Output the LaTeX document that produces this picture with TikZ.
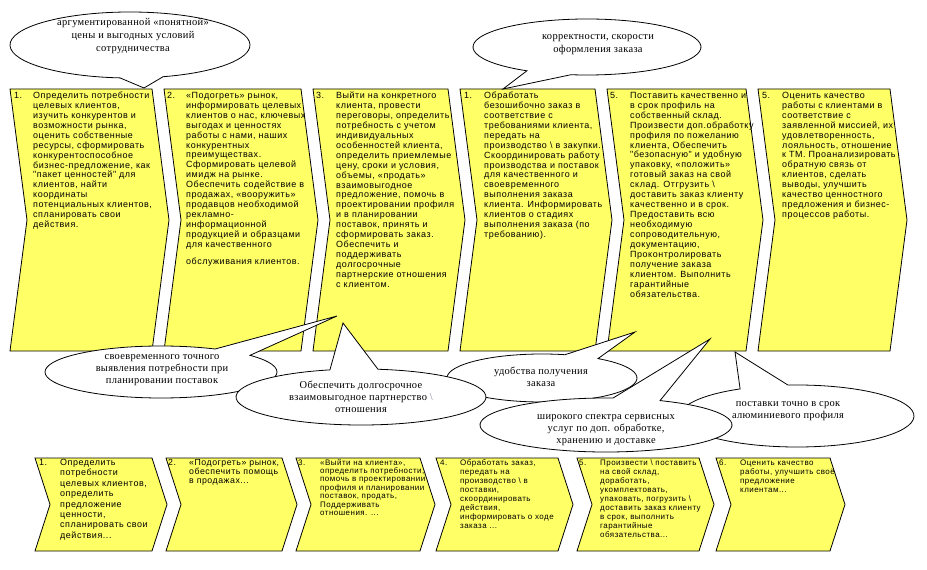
\documentclass[tikz,border=0pt]{standalone}
\usepackage{fontspec}
\setmainfont{Liberation Serif}
\newfontfamily\chevsans[LetterSpace=6]{Liberation Sans}
\newfontfamily\callserif[LetterSpace=3]{Liberation Serif}
\usetikzlibrary{calc}
\definecolor{chevyellow}{HTML}{FFFF66}
\definecolor{slashgray}{HTML}{8080A0}
\newcommand\chevshape[5]{\path[chev] (#1,#2) -- ++(#3,0) -- ++(#5,#4/2) -- ++(-#5,#4/2) -- ++(-#3,0) -- ++(#5,-#4/2) -- cycle;}
\newcommand\callshape[8]{\path[callout] ($(#1,#2)+(#5:#3 and #4)$) arc[start angle=#5, end angle=#6, x radius=#3, y radius=#4] -- (#7,#8) -- cycle;}
\newcommand\fl{\rule{0pt}{6.5bp}}
\begin{document}
\begin{tikzpicture}[x=1bp,y=-1bp,
 chev/.style={fill=chevyellow, draw=black, line width=0.8bp, line join=miter},
 callout/.style={fill=white, draw=black, line width=0.8bp, line join=miter},
 toptxt/.style={anchor=north west, inner sep=0pt, align=left, font=\chevsans\fontsize{9}{10}\selectfont},
 botA/.style={toptxt, font=\chevsans\fontsize{9}{10.5}\selectfont},
 botB/.style={toptxt, font=\chevsans\fontsize{8.8}{9.3}\selectfont},
 botC/.style={toptxt, font=\chevsans\fontsize{8}{8.4}\selectfont},
 botD/.style={toptxt, font=\chevsans\fontsize{8}{9.1}\selectfont},
 calltxt/.style={inner sep=0pt, align=center, font=\callserif\fontsize{10.5}{12}\selectfont},
 calltxtA/.style={calltxt, font=\callserif\fontsize{10.5}{13}\selectfont}]
\fill[white] (0,0) rectangle (927,570);
\useasboundingbox (0,0) rectangle (927,570);

% ---- top chevrons
\chevshape{10}{89}{142}{262}{17}
\chevshape{164}{89}{137}{262}{17}
\chevshape{313}{89}{135}{262}{17}
\chevshape{460}{89}{135}{262}{17}
\chevshape{607}{89}{139}{262}{17}
\chevshape{758}{89}{132}{262}{17}

\node[toptxt] (n1) at (14,91.5) {\fl 1.};
\node[toptxt] (t1) at (33,91.5) {\fl Определить потребности\\целевых клиентов,\\изучить конкурентов и\\возможности рынка,\\оценить собственные\\ресурсы, сформировать\\конкурентоспособное\\бизнес-предложение, как\\"пакет ценностей" для\\клиентов, найти\\координаты\\потенциальных клиентов,\\спланировать свои\\действия.};

\node[toptxt] (n2) at (167,91.5) {\fl 2.};
\node[toptxt] (t2) at (186,91.5) {\fl «Подогреть» рынок,\\информировать целевых\\клиентов о нас, ключевых\\выгодах и ценностях\\работы с нами,  наших\\конкурентных\\преимуществах.\\Сформировать целевой\\имидж на рынке.\\Обеспечить содействие в\\продажах, «вооружить»\\продавцов необходимой\\рекламно-\\информационной\\продукцией и образцами\\для качественного\\[6.5bp]обслуживания клиентов.};

\node[toptxt] (n3) at (316,91.5) {\fl 3.};
\node[toptxt] (t3) at (336,91.5) {\fl Выйти на  конкретного\\клиента, провести\\переговоры, определить\\потребность с учетом\\индивидуальных\\особенностей клиента,\\определить приемлемые\\цену, сроки и условия,\\объемы, «продать»\\взаимовыгодное\\предложение, помочь в\\проектировании профиля\\и в планировании\\поставок, принять и\\сформировать заказ.\\Обеспечить и\\поддерживать\\долгосрочные\\партнерские отношения\\с клиентом.};

\node[toptxt] (n4) at (464,91.5) {\fl 1.};
\node[toptxt] (t4) at (484,91.5) {\fl Обработать\\безошибочно заказ в\\соответствие с\\требованиями клиента,\\передать на\\производство \textbackslash\ в закупки.\\Скоординировать работу\\производства и поставок\\для качественного и\\своевременного\\выполнения заказа\\клиента. Информировать\\клиентов о стадиях\\выполнения заказа (по\\требованию).};

\node[toptxt] (n5) at (610,91.5) {\fl 5.};
\node[toptxt] (t5) at (630,91.5) {\fl Поставить качественно и\\в срок  профиль на\\собственный склад.\\Произвести доп.обработку\\профиля по пожеланию\\клиента, Обеспечить\\"безопасную"  и удобную\\упаковку, «положить»\\готовый заказ на свой\\склад. Отгрузить \textbackslash\\доставить заказ  клиенту\\качественно и в срок.\\Предоставить всю\\необходимую\\сопроводительную,\\документацию,\\Проконтролировать\\получение заказа\\клиентом. Выполнить\\гарантийные\\обязательства.};

\node[toptxt] (n6) at (762,91.5) {\fl 5.};
\node[toptxt] (t6) at (782,91.5) {\fl Оценить качество\\работы с клиентами  в\\соответствие с\\заявленной миссией, их\\удовлетворенность,\\лояльность, отношение\\к ТМ. Проанализировать\\обратную связь от\\клиентов, сделать\\выводы, улучшить\\качество ценностного\\предложения и бизнес-\\процессов работы.};

% ---- bottom chevrons
\chevshape{35}{458}{117}{93}{15}
\chevshape{166}{458}{116}{93}{15}
\chevshape{296}{458}{124}{93}{15}
\chevshape{436}{458}{122}{93}{15}
\chevshape{577}{458}{122}{93}{15}
\chevshape{716}{458}{114}{93}{15}

\node[botA] (m1) at (39,458.5) {\fl 1.};
\node[botA] (b1) at (60,458.5) {\fl Определить\\потребности\\целевых клиентов,\\определить\\предложение\\ценности,\\спланировать свои\\действия...};
\node[botB] (m2) at (168,458.5) {\fl 2.};
\node[botB] (b2) at (189,458.5) {\fl «Подогреть» рынок,\\обеспечить помощь\\в продажах...};
\node[botC] (m3) at (298,458.5) {\fl 3.};
\node[botC] (b3) at (320,458.5) {\fl «Выйти на клиента»,\\определить потребности,\\помочь в проектировании\\профиля и планировании\\поставок, продать,\\Поддерживать\\отношения. ...};
\node[botD] (m4) at (440,458.5) {\fl 4.};
\node[botD] (b4) at (460,458.5) {\fl Обработать заказ,\\передать на\\производство \textbackslash\ в\\поставки,\\скоординировать\\действия,\\информировать о ходе\\заказа ...};
\node[botD] (m5) at (579,458.5) {\fl 5.};
\node[botD] (b5) at (600,458.5) {\fl Произвести \textbackslash\ поставить\\на  свой склад,\\доработать,\\укомплектовать,\\упаковать, погрузить \textbackslash\\доставить заказ клиенту\\в срок, выполнить\\гарантийные\\обязательства...};
\node[botD] (m6) at (719,458.5) {\fl 6.};
\node[botD] (b6) at (740,458.5) {\fl Оценить качество\\работы, улучшить своё\\предложение\\клиентам...};

% ---- callouts
\callshape{130}{45}{120}{33}{94.8}{434}{144}{88}
\node[calltxtA] (ca) at (133,36) {аргументированной «понятной»\\цены и выгодных условий\\сотрудничества};
\callshape{587}{47}{114}{28}{121.8}{458.1}{503}{89}
\node[calltxtA] (cb) at (598,44.5) {корректности, скорости\\оформления заказа};

\callshape{161}{372}{116}{26}{320.1}{657.8}{337}{316}
\node[calltxt] (cc) at (162,370) {своевременного точного\\выявления потребности при\\планировании поставок};
\callshape{542}{378}{95}{24}{306.1}{644}{635}{332}
\node[calltxt] (ce) at (541,377) {удобства получения\\заказа};
\callshape{361}{397}{125}{28}{277.8}{615.6}{343}{323}
\node[calltxt] (cd) at (361,397) {Обеспечить долгосрочное\\взаимовыгодное партнерство {\color{slashgray}\textbackslash}\\отношения};
\callshape{797}{416}{117}{31}{265.6}{600.9}{735}{352}
\node[calltxt] (cg) at (788,411) {поставки точно в срок\\алюминиевого профиля};
\callshape{606}{425}{126}{27}{295.4}{633.2}{710}{339}
\node[calltxt] (cf) at (606,430) {широкого спектра сервисных\\услуг по доп. обработке,\\хранению и доставке};
\end{tikzpicture}
\end{document}
